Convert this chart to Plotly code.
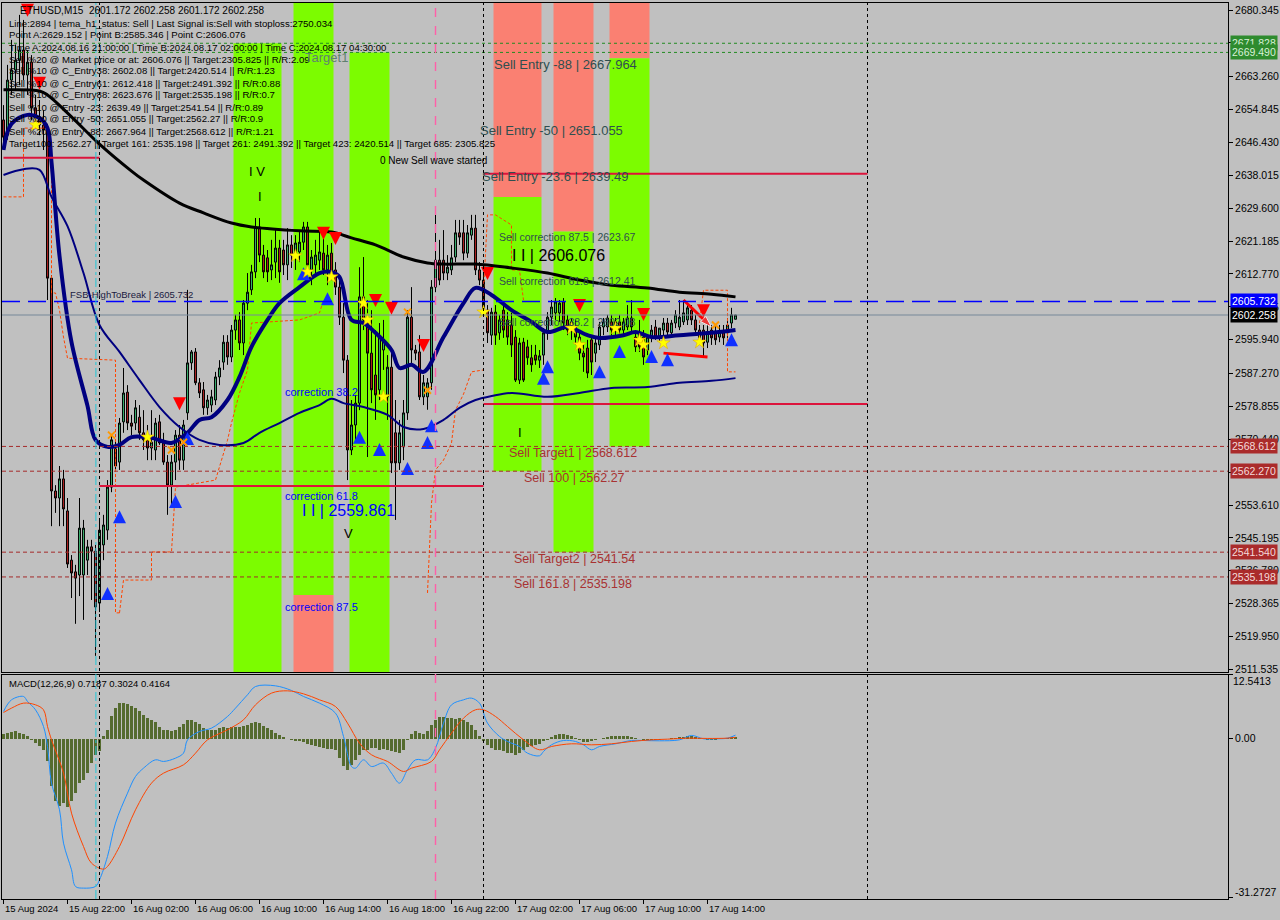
import plotly.graph_objects as go

# ---------------- DATA ----------------
bar_index = list(range(184))
open_ = [2652.2,2648.3,2662.4,2665.0,2667.5,2670.1,2663.7,2667.0,2655.3,2652.7,
 2650.9,2649.6,2611.7,2557.2,2555.4,2560.3,2552.1,2539.5,2536.5,2535.7,
 2535.7,2539.5,2542.9,2541.8,2528.5,2543.4,2547.2,2558.2,2568.0,2564.6,
 2574.9,2582.5,2574.6,2574.6,2576.1,2572.1,2570.3,2568.2,2567.7,2574.9,
 2569.5,2564.6,2558.7,2564.6,2571.5,2565.1,2577.2,2590.0,2592.8,2584.9,
 2583.1,2578.5,2579.2,2580.5,2586.4,2590.2,2595.3,2591.5,2598.4,2601.0,
 2595.1,2605.3,2608.7,2613.3,2624.8,2617.6,2616.9,2613.8,2615.8,2619.4,
 2618.9,2615.1,2620.2,2616.9,2618.4,2620.9,2624.8,2613.8,2615.1,2616.3,
 2618.1,2613.8,2618.1,2613.8,2609.4,2601.7,2590.7,2567.7,2574.1,2579.7,
 2606.9,2601.7,2592.5,2586.9,2583.1,2593.3,2581.3,2588.9,2572.1,2564.4,
 2568.5,2577.2,2601.7,2593.3,2592.8,2581.3,2581.3,2584.9,2609.4,2616.3,
 2616.3,2613.0,2613.8,2617.1,2623.3,2623.3,2618.1,2622.7,2624.5,2613.8,
 2611.2,2603.5,2597.1,2603.0,2597.7,2603.5,2601.0,2599.7,2596.6,2585.6,
 2595.3,2594.1,2591.3,2592.0,2590.7,2592.0,2597.7,2601.7,2602.8,2602.8,
 2605.6,2601.0,2598.4,2599.2,2596.6,2592.5,2593.8,2595.9,2592.5,2594.6,
 2599.2,2599.2,2600.5,2598.4,2600.5,2598.4,2599.2,2601.5,2596.6,2597.7,
 2596.6,2593.3,2596.6,2599.2,2596.6,2598.4,2600.2,2597.7,2600.2,2599.2,
 2600.5,2601.0,2603.5,2601.0,2598.4,2598.4,2595.3,2598.4,2597.9,2596.6,
 2597.7,2597.7,2600.2,2601.172]
high = [2656.0,2666.3,2672.7,2671.4,2679.1,2677.8,2670.1,2668.8,2658.6,2657.3,
 2654.7,2651.2,2612.5,2558.7,2563.6,2562.6,2555.4,2540.8,2538.3,2555.4,
 2549.8,2544.7,2544.7,2543.4,2549.8,2551.1,2560.0,2571.8,2570.3,2575.9,
 2588.7,2584.3,2576.7,2580.5,2579.2,2577.9,2574.1,2577.9,2575.9,2576.7,
 2572.1,2566.4,2566.4,2572.8,2574.1,2575.4,2608.7,2593.3,2593.8,2586.1,
 2585.1,2581.8,2583.1,2587.7,2590.7,2597.1,2597.1,2599.7,2602.3,2603.0,
 2606.1,2613.0,2615.1,2627.1,2627.1,2620.2,2618.9,2621.5,2624.0,2621.5,
 2621.5,2624.5,2622.7,2622.7,2623.5,2626.1,2626.1,2618.9,2621.5,2624.0,
 2622.7,2620.2,2620.7,2615.8,2611.2,2605.3,2592.0,2580.5,2581.8,2614.5,
 2617.1,2606.1,2603.5,2598.4,2600.2,2601.0,2592.0,2593.3,2580.5,2575.4,
 2580.5,2603.5,2609.4,2594.6,2597.1,2586.9,2586.1,2611.2,2629.7,2621.5,
 2624.0,2617.6,2620.2,2626.6,2626.6,2626.6,2625.3,2627.9,2627.9,2615.8,
 2612.5,2604.8,2604.1,2604.8,2602.3,2604.8,2603.0,2602.8,2598.4,2596.4,
 2596.4,2595.9,2594.6,2594.6,2593.3,2598.9,2603.0,2606.1,2606.6,2606.1,
 2606.6,2602.3,2601.5,2601.0,2598.4,2594.6,2595.9,2597.1,2596.4,2600.5,
 2601.5,2602.3,2602.3,2601.5,2602.3,2601.5,2604.8,2606.1,2598.4,2601.0,
 2598.4,2597.1,2599.7,2601.0,2598.9,2601.5,2601.5,2601.0,2603.5,2606.1,
 2606.1,2604.8,2604.8,2602.3,2599.7,2599.7,2599.7,2599.7,2599.7,2599.7,
 2599.7,2601.5,2604.1,2602.258]
low = [2644.5,2647.1,2658.6,2659.9,2661.1,2662.4,2658.6,2652.2,2650.9,2648.3,
 2644.5,2606.1,2548.2,2551.6,2548.2,2548.2,2537.5,2529.8,2523.2,2530.3,
 2524.2,2535.7,2529.3,2515.0,2526.2,2539.5,2544.7,2556.9,2562.6,2562.6,
 2572.1,2572.8,2571.5,2572.8,2570.3,2567.7,2565.1,2565.1,2565.1,2569.0,
 2563.9,2551.1,2553.6,2560.0,2562.6,2562.6,2575.4,2588.2,2584.3,2581.0,
 2576.7,2576.7,2577.4,2579.2,2584.3,2588.2,2589.5,2590.2,2595.9,2593.3,
 2592.0,2603.5,2607.4,2611.7,2615.8,2611.7,2610.7,2611.2,2611.7,2610.5,
 2612.5,2611.2,2614.3,2613.8,2615.8,2618.9,2613.8,2609.9,2612.5,2613.8,
 2612.5,2609.9,2611.2,2607.4,2599.7,2587.4,2560.0,2566.4,2570.3,2577.9,
 2598.4,2565.9,2579.7,2575.4,2580.5,2588.2,2575.4,2561.8,2549.8,2562.6,
 2565.1,2575.4,2589.5,2590.7,2580.5,2579.2,2578.0,2583.1,2608.1,2609.9,
 2611.2,2611.2,2612.5,2615.8,2620.2,2616.3,2616.9,2621.5,2612.5,2609.9,
 2602.3,2595.1,2594.6,2594.6,2595.9,2596.4,2594.6,2591.5,2585.1,2584.6,
 2585.1,2589.5,2587.7,2589.5,2588.7,2589.5,2595.9,2599.7,2601.0,2600.5,
 2598.4,2597.1,2595.9,2594.6,2590.7,2587.7,2586.1,2586.9,2590.2,2593.3,
 2597.1,2597.9,2597.1,2597.1,2597.1,2597.1,2598.4,2597.9,2592.8,2592.8,
 2589.5,2592.0,2595.3,2595.9,2595.3,2597.1,2597.1,2596.4,2598.9,2598.4,
 2599.7,2599.7,2599.7,2597.1,2594.6,2591.5,2593.8,2594.6,2594.6,2595.3,
 2594.6,2596.4,2598.9,2601.172]
close = [2647.8,2662.4,2665.0,2667.5,2670.1,2663.7,2667.0,2655.3,2652.7,2650.9,
 2649.6,2611.7,2557.2,2555.4,2560.3,2552.6,2538.5,2536.2,2534.9,2547.7,
 2547.7,2542.9,2541.8,2527.5,2547.2,2548.5,2558.2,2570.3,2563.6,2574.6,
 2582.3,2574.6,2573.8,2578.5,2572.1,2570.3,2568.2,2569.7,2574.6,2569.5,
 2564.6,2558.7,2564.6,2571.5,2565.1,2574.1,2590.0,2592.8,2584.9,2582.3,
 2578.5,2580.5,2581.3,2586.4,2588.7,2595.3,2591.5,2598.4,2601.0,2595.1,
 2605.3,2608.1,2613.3,2624.8,2617.6,2613.3,2613.3,2615.1,2619.4,2613.3,
 2615.1,2620.2,2617.6,2620.7,2620.9,2624.8,2615.1,2617.1,2617.6,2618.4,
 2613.8,2617.6,2613.0,2609.4,2601.7,2590.7,2567.7,2574.1,2579.7,2606.9,
 2601.0,2592.5,2583.1,2581.8,2596.6,2595.9,2588.9,2564.4,2564.4,2572.1,
 2577.2,2601.7,2593.3,2592.5,2581.3,2584.9,2584.9,2609.4,2616.3,2611.2,
 2613.0,2614.5,2616.9,2623.3,2622.2,2618.1,2623.3,2624.5,2613.8,2611.2,
 2603.5,2597.7,2603.0,2597.1,2601.0,2598.4,2596.6,2594.6,2585.6,2595.1,
 2585.6,2591.3,2589.5,2590.7,2591.8,2597.7,2601.7,2604.3,2605.6,2605.3,
 2600.2,2598.4,2600.5,2596.6,2592.5,2591.5,2587.4,2590.2,2595.1,2599.2,
 2600.5,2601.5,2598.4,2600.5,2598.4,2600.5,2601.5,2599.2,2594.1,2594.1,
 2591.5,2596.6,2598.4,2596.6,2598.9,2600.2,2597.9,2600.2,2602.3,2601.7,
 2602.8,2604.1,2601.0,2598.4,2596.4,2595.1,2597.9,2596.4,2595.9,2597.9,
 2596.4,2599.7,2602.3,2602.258]

ma_slow_idx = [0,9,11,17,24,32,35,44,50,57,62,74,82,87,93,100,106,110,118,127,136,144,152,161,169,177,183]
ma_slow = [2659.9,2659.6,2658.6,2653.0,2646.0,2639.1,2636.8,2630.9,2628.4,2625.8,2624.8,2623.8,2623.5,2622.0,
           2620.2,2617.1,2615.6,2615.3,2615.3,2614.3,2613.0,2611.2,2609.9,2609.2,2608.1,2607.6,2606.9]
ma_fast_idx = [0,2,6,9,11,12,14,17,21,23,26,29,32,37,42,46,49,52,56,59,62,66,69,74,79,82,84,87,90,93,97,99,
               102,105,110,115,118,122,127,132,136,141,146,149,155,158,162,169,177,183]
ma_fast = [2644.5,2651.2,2653.5,2652.7,2650.1,2641.4,2617.4,2595.3,2579.0,2570.3,2568.5,2569.0,2571.0,2570.8,
           2569.5,2572.1,2575.4,2576.1,2580.5,2586.4,2594.1,2601.0,2605.3,2609.4,2613.0,2613.3,2612.0,2601.0,
           2600.2,2597.7,2593.3,2588.7,2589.5,2587.7,2596.6,2605.3,2609.2,2607.4,2603.5,2600.5,2597.9,2599.2,
           2597.1,2596.4,2597.1,2597.9,2596.6,2597.1,2597.7,2598.4]
ma_mid_idx = [0,5,9,12,16,20,24,29,34,39,44,49,54,60,64,69,74,79,82,85,90,96,100,105,110,114,118,122,127,
              136,144,152,161,169,177,183]
ma_mid = [2638.1,2639.6,2639.4,2632.5,2625.0,2613.0,2599.7,2592.8,2585.6,2578.7,2573.6,2570.3,2569.0,2569.5,
          2572.1,2574.6,2577.2,2579.2,2580.8,2579.7,2578.7,2576.7,2573.6,2573.1,2575.4,2578.5,2580.5,2581.5,
          2582.3,2581.3,2582.3,2583.6,2583.8,2584.9,2585.4,2586.1]

# stepped envelope (orange dashed) segments: (bar index, price)
env_a_idx = [0,5,5,11,12,12,13,14,15,16,28,28,29]
env_a = [2632.5,2632.5,2650.1,2650.1,2638.6,2607.9,2607.9,2603.5,2596.6,2591.2,2590.7,2526.0,2526.0]
env_b_idx = [29,30,37,37,42,43,53,56,57,59,61,62,74,79,80]
env_b = [2526.0,2534.4,2534.4,2541.6,2541.6,2558.2,2560.0,2570.2,2574.6,2582.3,2588.2,2600.2,2601.0,2602.8,2606.1]
env_c_idx = [106,107,108,110,112,113,115,117,120]
env_c = [2531.1,2554.1,2562.6,2565.1,2569.5,2577.9,2582.0,2587.7,2588.2]
env_d_idx = [120,121,123,127,127,129,130]
env_d = [2608.1,2627.9,2627.9,2625.3,2613.8,2613.8,2606.1]
env_e_idx = [174,175,181,181,183]
env_e = [2600.2,2608.6,2608.6,2587.7,2587.7]

# signals
buy_idx = [26,29,43,46,75,81,89,94,101,106,107,135,136,149,154,162,166,182]
buy_px = [2532.6,2552.3,2556.2,2572.3,2614.5,2608.1,2572.6,2569.5,2564.6,2571.3,2575.6,2587.7,2590.7,
          2589.4,2594.6,2593.3,2592.5,2597.6]
sell_idx = [6,9,44,80,83,93,97,105,121,144,160,175]
sell_px = [2678.6,2659.9,2577.9,2621.5,2620.2,2604.3,2602.3,2592.8,2611.2,2603.0,2600.7,2601.7]
star_idx = [8,36,73,76,82,90,91,95,120,142,144,153,159,160,165,174]
star_px = [2650.9,2571.0,2617.4,2613.3,2612.0,2605.3,2601.0,2581.3,2603.0,2598.9,2594.6,2598.9,2595.8,
           2594.6,2595.1,2595.3]
cross_idx = [27,42,45,101,106,178]
cross_px = [2571.5,2567.7,2569.7,2603.0,2583.0,2599.7]
trend1_idx = [170,177]
trend1_px = [2606.1,2599.2]
trend2_idx = [165,176]
trend2_px = [2592.5,2591.5]

# MACD(12,26,9)
macd_hist = [0.98,1.24,1.38,1.44,1.24,0.98,0.46,-0.33,-0.85,-1.38,
 -2.16,-4.45,-9.37,-12.31,-13.17,-12.64,-13.43,-12.31,-10.68,-8.71,
 -8.06,-6.75,-4.78,-3.14,-2.49,0.46,1.77,4.39,6.03,7.01,
 7.01,6.88,6.48,6.03,5.37,4.72,4.06,3.73,3.21,2.42,
 1.77,1.77,1.57,1.77,2.29,2.95,3.73,3.60,3.21,2.88,
 2.10,1.77,1.77,1.77,2.10,2.42,2.10,2.29,2.29,2.42,
 2.55,2.75,3.08,3.34,3.08,2.55,2.10,1.77,1.24,0.72,
 0.33,0.05,-0.26,-0.39,-0.52,-0.66,-0.98,-1.18,-1.51,-1.64,
 -1.83,-1.97,-2.03,-2.29,-3.80,-5.44,-6.09,-5.11,-4.13,-3.14,
 -2.16,-2.29,-1.90,-1.83,-2.16,-2.03,-2.16,-2.42,-2.55,-2.69,
 -2.29,-0.20,0.98,1.44,1.24,0.92,1.44,2.75,3.73,4.26,
 4.19,4.00,4.00,3.86,4.00,3.60,3.21,2.75,1.77,0.46,
 -0.52,-1.18,-1.90,-2.16,-2.29,-2.49,-2.69,-2.82,-3.14,-2.82,
 -2.16,-1.70,-1.51,-1.31,-0.98,-0.52,-0.20,0.26,0.66,0.92,
 0.85,0.72,0.46,0.13,-0.33,-0.59,-0.72,-0.52,-0.33,-0.13,
 0.07,0.26,0.46,0.52,0.59,0.59,0.52,0.39,0.13,-0.13,
 -0.26,-0.33,-0.33,-0.26,-0.20,-0.07,0.02,0.07,0.20,0.26,
 0.39,0.52,0.59,0.33,0.13,-0.07,-0.20,-0.20,-0.20,-0.13,
 -0.07,0.20,0.30,0.4164]
macd_idx = [0,2,5,6,8,10,11,12,14,15,17,18,20,23,24,26,28,31,33,35,38,40,43,45,46,49,52,56,58,61,63,68,72,
            75,79,83,85,87,88,90,92,95,97,99,101,103,106,108,110,112,115,117,119,121,124,126,129,131,134,135,
            137,140,143,145,147,149,153,157,160,164,169,172,175,178,181,183]
macd_line = [5.37,7.66,8.32,7.34,5.70,2.42,-1.51,-8.71,-13.95,-20.50,-25.74,-29.02,-29.34,-29.02,-27.71,
             -23.12,-16.57,-10.68,-7.40,-5.77,-4.13,-4.45,-3.80,-2.82,-0.20,1.44,2.10,4.39,6.03,8.65,10.28,
             10.41,9.50,8.32,7.01,5.04,0.46,-5.44,-5.77,-4.13,-5.44,-4.78,-6.75,-8.71,-6.09,-4.13,-4.13,
             -1.83,3.08,6.68,7.66,7.99,7.01,3.08,0.46,-0.52,-1.51,-2.82,-3.34,-2.49,-1.18,-0.33,-0.52,-1.18,
             -2.16,-1.51,-0.98,-0.33,-0.33,-0.39,-0.20,0.66,0.0,0.0,0.13,0.7187]
signal_idx = [0,2,5,8,10,11,12,15,17,20,22,25,26,29,33,37,40,45,48,51,56,60,63,67,71,75,79,83,86,89,92,96,
              100,102,107,109,112,115,118,120,123,126,130,134,137,142,147,152,157,162,166,171,176,181,183]
signal_line = [5.17,6.03,7.01,6.68,5.70,2.42,-0.20,-6.75,-14.61,-21.16,-24.43,-25.61,-25.09,-21.16,-13.95,
               -8.71,-6.75,-5.11,-2.82,-0.20,1.77,3.73,6.68,8.98,9.43,8.84,7.66,6.35,3.08,-0.85,-3.14,-4.45,
               -6.42,-5.77,-4.45,-2.16,1.11,4.06,5.70,5.70,4.39,2.42,-0.20,-2.16,-1.51,-0.98,-1.18,-0.98,
               -0.52,-0.20,-0.07,0.13,0.07,0.13,0.3024]

# axis ticks / labels
time_tick_idx = [0,16,32,48,64,80,96,112,128,144,160,176]
time_tick_labels = ["15 Aug 2024","15 Aug 22:00","16 Aug 02:00","16 Aug 06:00","16 Aug 10:00","16 Aug 14:00",
                    "16 Aug 18:00","16 Aug 22:00","17 Aug 02:00","17 Aug 06:00","17 Aug 10:00","17 Aug 14:00"]
price_ticks = [2680.345,2671.930,2663.260,2654.845,2646.430,2638.015,2629.600,2621.185,2612.770,2604.355,
               2595.940,2587.270,2578.855,2570.440,2562.025,2553.610,2545.195,2536.780,2528.365,2519.950,2511.535]
hidden_ticks = [2671.930, 2562.025]   # fully covered by price tags in the reference

# levels
level_fsb = 2605.732
level_bid = 2602.258
level_green = [2671.828, 2669.490]
level_targets = [2568.612, 2562.270, 2541.540, 2535.198]

# ---------------- FIGURE ----------------
BG = "#C0C0C0"
FONT = "Liberation Sans"
fig = go.Figure()

fig.add_trace(go.Candlestick(
    x=bar_index, open=open_, high=high, low=low, close=close,
    increasing=dict(fillcolor="#3CB371", line=dict(color="black", width=1)),
    decreasing=dict(fillcolor="#B22222", line=dict(color="black", width=1)),
    whiskerwidth=0, xaxis="x", yaxis="y", showlegend=False, hoverinfo="skip"))

for xs, ys in [(env_a_idx, env_a), (env_b_idx, env_b), (env_c_idx, env_c), (env_d_idx, env_d), (env_e_idx, env_e)]:
    fig.add_trace(go.Scatter(x=xs, y=ys, mode="lines", line=dict(color="#FF4500", width=1, dash="3px,2px"),
                             xaxis="x", yaxis="y", showlegend=False, hoverinfo="skip"))

fig.add_trace(go.Scatter(x=ma_slow_idx, y=ma_slow, mode="lines", line=dict(color="black", width=3, shape="spline"),
                         xaxis="x", yaxis="y", showlegend=False))
fig.add_trace(go.Scatter(x=ma_mid_idx, y=ma_mid, mode="lines", line=dict(color="#000080", width=2, shape="spline"),
                         xaxis="x", yaxis="y", showlegend=False))
fig.add_trace(go.Scatter(x=ma_fast_idx, y=ma_fast, mode="lines", line=dict(color="#000080", width=4, shape="spline"),
                         xaxis="x", yaxis="y", showlegend=False))

fig.add_trace(go.Scatter(x=trend1_idx, y=trend1_px, mode="lines+markers", line=dict(color="red", width=3),
                         marker=dict(symbol=["circle", "arrow"], size=[0, 12], angleref="previous", color="red"),
                         xaxis="x", yaxis="y", showlegend=False))
fig.add_trace(go.Scatter(x=trend2_idx, y=trend2_px, mode="lines", line=dict(color="red", width=3),
                         xaxis="x", yaxis="y", showlegend=False))

fig.add_trace(go.Scatter(x=buy_idx, y=buy_px, mode="markers",
                         marker=dict(symbol="arrow-up", size=13, color="#1030FF"),
                         xaxis="x", yaxis="y", showlegend=False))
fig.add_trace(go.Scatter(x=sell_idx, y=sell_px, mode="markers",
                         marker=dict(symbol="arrow-down", size=13, color="#FF0000"),
                         xaxis="x", yaxis="y", showlegend=False))
fig.add_trace(go.Scatter(x=star_idx, y=star_px, mode="markers",
                         marker=dict(symbol="star", size=10, color="#FFFF00", line=dict(color="#E0A000", width=0.5)),
                         xaxis="x", yaxis="y", showlegend=False))
fig.add_trace(go.Scatter(x=cross_idx, y=cross_px, mode="markers",
                         marker=dict(symbol="x-thin", size=7, line=dict(color="#FF9900", width=2)),
                         xaxis="x", yaxis="y", showlegend=False))

# MACD panel
fig.add_trace(go.Bar(x=bar_index, y=macd_hist, marker=dict(color="#556B2F", line=dict(width=0)), width=0.8,
                     xaxis="x2", yaxis="y2", showlegend=False))
fig.add_trace(go.Scatter(x=macd_idx, y=macd_line, mode="lines", line=dict(color="#1E90FF", width=1, shape="spline"),
                         xaxis="x2", yaxis="y2", showlegend=False))
fig.add_trace(go.Scatter(x=signal_idx, y=signal_line, mode="lines", line=dict(color="#FF4500", width=1, shape="spline"),
                         xaxis="x2", yaxis="y2", showlegend=False))

# ---------------- SHAPES ----------------
shapes = []
GREEN = "#7CFC00"
SALMON = "#FA8072"
TOP, BOT = 2690.0, 2505.0
bands = [  # (x0, x1, y0, y1, color)
    (57.5, 69.5, BOT, level_green[0], GREEN),
    (72.5, 82.5, 2530.6, TOP, GREEN),
    (72.5, 82.5, BOT, 2530.6, SALMON),
    (86.5, 96.5, BOT, level_green[1], GREEN),
    (122.5, 134.5, 2632.5, TOP, SALMON),
    (122.5, 134.5, 2562.27, 2632.5, GREEN),
    (137.5, 147.5, 2623.67, TOP, SALMON),
    (137.5, 147.5, 2541.54, 2623.67, GREEN),
    (151.5, 161.5, 2667.964, TOP, SALMON),
    (151.5, 161.5, 2568.612, 2667.964, GREEN),
]
for x0, x1, y0, y1, c in bands:
    shapes.append(dict(type="rect", xref="x", yref="y", x0=x0, x1=x1, y0=y0, y1=y1,
                       fillcolor=c, line=dict(width=0), layer="below"))

for lv in level_green:
    shapes.append(dict(type="line", xref="paper", yref="y", x0=0, x1=1, y0=lv, y1=lv,
                       line=dict(color="#228B22", width=1, dash="dot")))
for lv in level_targets:
    shapes.append(dict(type="line", xref="paper", yref="y", x0=0, x1=1, y0=lv, y1=lv,
                       line=dict(color="#A52A2A", width=1, dash="4px,3px")))
shapes.append(dict(type="line", xref="paper", yref="y", x0=0, x1=1, y0=level_fsb, y1=level_fsb,
                   line=dict(color="#0000FF", width=1.4, dash="18px,8px")))
shapes.append(dict(type="line", xref="paper", yref="y", x0=0, x1=1, y0=level_bid, y1=level_bid,
                   line=dict(color="#778899", width=1)))
# zone lines (crimson)
for x0, x1, lv in [(0, 24, 2642.5), (24, 120, 2558.5), (120, 216, 2638.4), (120, 216, 2579.5)]:
    shapes.append(dict(type="line", xref="x", yref="y", x0=x0, x1=x1, y0=lv, y1=lv,
                       line=dict(color="#DC143C", width=2)))
# vertical separators
for xv, col, dash, wd in [(23.1, "#20C8D8", "dashdot", 1), (24, "black", "dot", 1), (108, "#FF5FA8", "dash", 1.4),
                          (120, "black", "dot", 1), (216, "black", "dot", 1)]:
    shapes.append(dict(type="line", xref="x", yref="paper", x0=xv, x1=xv, y0=0, y1=1,
                       line=dict(color=col, width=wd, dash=dash)))

# ---------------- ANNOTATIONS ----------------
ann = []
def txt(x, y, s, color, size, xref="x", yref="y", anchor="left"):
    ann.append(dict(x=x, y=y, xref=xref, yref=yref, text=s, showarrow=False, xanchor=anchor, yanchor="middle",
                    font=dict(family=FONT, size=size, color=color)))

info_lines = [
    "Line:2894 | tema_h1_status: Sell | Last Signal is:Sell with stoploss:2750.034",
    "Point A:2629.152 | Point B:2585.346 | Point C:2606.076",
    "Time A:2024.08.16 21:00:00 | Time B:2024.08.17 02:00:00 | Time C:2024.08.17 04:30:00",
    "Sell %20 @ Market price or at: 2606.076 || Target:2305.825 || R/R:2.09",
    "Sell %10 @ C_Entry38: 2602.08 || Target:2420.514 || R/R:1.23",
    "Sell %10 @ C_Entry61: 2612.418 || Target:2491.392 || R/R:0.88",
    "Sell %10 @ C_Entry88: 2623.676 || Target:2535.198 || R/R:0.7",
    "Sell %10 @ Entry -23: 2639.49 || Target:2541.54 || R/R:0.89",
    "Sell %20 @ Entry -50: 2651.055 || Target:2562.27 || R/R:0.9",
    "Sell %20 @ Entry -88: 2667.964 || Target:2568.612 || R/R:1.21",
    "Target100: 2562.27 || Target 161: 2535.198 || Target 261: 2491.392 || Target 423: 2420.514 || Target 685: 2305.825",
]
def py(ypx):
    return (899 - ypx) / 896.0
def pxx(xpx):
    return (xpx - 2) / 1226.0

txt(pxx(18), py(10), "ETHUSD,M15  2601.172 2602.258 2601.172 2602.258", "black", 10, "paper", "paper")
for k, s in enumerate(info_lines):
    txt(pxx(7), py(23 + 12 * k), s, "black", 9.6, "paper", "paper")

DSG = "#2F4F4F"
BRN = "#A83232"
txt(122.1, 2666.5, "Sell Entry -88 | 2667.964", DSG, 13)
txt(118.6, 2649.4, "Sell Entry -50 | 2651.055", DSG, 13)
txt(119.1, 2637.8, "Sell Entry -23.6 | 2639.49", DSG, 13)
txt(93.6, 2641.7, "0 New Sell wave started", "black", 10)
txt(123.4, 2622.2, "Sell correction 87.5 | 2623.67", DSG, 10.5)
txt(126.6, 2617.6, "I I | 2606.076", "black", 16)
txt(123.4, 2610.9, "Sell correction 61.8 | 2612.41", DSG, 10.5)
txt(123.4, 2600.5, "Sell correction 38.2 | 2602.08", DSG, 10.5)
txt(69.9, 2582.5, "correction 38.2", "#0000FF", 11)
txt(69.9, 2555.9, "correction 61.8", "#0000FF", 11)
txt(74.1, 2552.1, "I I | 2559.861", "#0000FF", 16)
txt(84.6, 2546.4, "V", "black", 13)
txt(69.9, 2527.5, "correction 87.5", "#0000FF", 11)
txt(60.9, 2638.9, "I V", "black", 13)
txt(63.1, 2632.5, "I", "black", 13)
txt(128.1, 2572.3, "I", "black", 13)
txt(125.9, 2566.9, "Sell Target1 | 2568.612", BRN, 12.5)
txt(129.6, 2560.5, "Sell 100 | 2562.27", BRN, 12.5)
txt(127.1, 2539.8, "Sell Target2 | 2541.54", BRN, 12.5)
txt(127.1, 2533.4, "Sell 161.8 | 2535.198", BRN, 12.5)
txt(74.9, 2668.1, "Target1", "#5F8070", 13)
txt(16.1, 2607.6, "FSB-HighToBreak | 2605.732", "#1A1A40", 9.5)
txt(pxx(7), py(683), "MACD(12,26,9) 0.7187 0.3024 0.4164", "black", 9.5, "paper", "paper")

# price tags on right axis
def tag(lv, s, bg, fg):
    ann.append(dict(x=1, xref="paper", y=lv, yref="y", text=s, showarrow=False, xanchor="left", xshift=2,
                    yanchor="middle", bgcolor=bg, borderpad=1,
                    font=dict(family=FONT, size=10.5, color=fg)))
tag(level_green[0], "2671.828", "#2E8B2E", "#D8F0D8")
tag(level_green[1], "2669.490", "#2E8B2E", "#D8F0D8")
tag(level_fsb, "2605.732", "#0000FF", "white")
tag(level_bid, "2602.258", "black", "white")
for lv, s in zip(level_targets, ["2568.612", "2562.270", "2541.540", "2535.198"]):
    tag(lv, s, "#AA2B2B", "#F4DADA")
# MACD scale labels
txt(1, py(681), "12.5413", "black", 10.5, "paper", "paper")
ann[-1]["xshift"] = 3
txt(1, py(892), "-31.2727", "black", 10.5, "paper", "paper")
ann[-1]["xshift"] = 5

# x-axis date labels (left-aligned at their tick, as in MT4)
for ti, lab in zip(time_tick_idx, time_tick_labels):
    ann.append(dict(x=ti, xref="x2", y=py(909), yref="paper", text=lab, showarrow=False,
                    xanchor="left", yanchor="middle", xshift=-1, font=dict(family=FONT, size=9.5, color="black")))

fig.update_layout(
    width=1280, height=920,
    margin=dict(l=2, r=52, t=3, b=21, autoexpand=False),
    paper_bgcolor=BG, plot_bgcolor=BG,
    font=dict(family=FONT, size=11, color="black"),
    showlegend=False, bargap=0,
    shapes=shapes, annotations=ann,
    xaxis=dict(domain=[0, 1], anchor="y", range=[-0.375, 306.125], showgrid=False, zeroline=False,
               showticklabels=False, ticks="", showline=True, mirror=True, linecolor="black", linewidth=1,
               rangeslider=dict(visible=False)),
    yaxis=dict(domain=[0.2533, 1], anchor="x", range=[2510.85, 2682.14], side="right", showgrid=False,
               zeroline=False, tickvals=price_ticks,
               ticktext=["" if v in hidden_ticks else f"{v:.3f}" for v in price_ticks],
               ticks="outside", ticklen=4, tickcolor="black", showline=True, mirror=True, linecolor="black",
               linewidth=1, tickfont=dict(family=FONT, size=10.5, color="black")),
    xaxis2=dict(domain=[0, 1], anchor="y2", range=[-0.375, 306.125], matches="x", showgrid=False, zeroline=False,
                tickvals=time_tick_idx, ticktext=[""] * len(time_tick_idx), ticks="outside", ticklen=4,
                tickcolor="black", showline=True, mirror=True, linecolor="black", linewidth=1),
    yaxis2=dict(domain=[0, 0.25], anchor="x2", range=[-31.48, 12.54], side="right", showgrid=False,
                zeroline=False, tickvals=[12.5413, 0, -31.2727], ticktext=["", "0.00", ""],
                ticks="outside", ticklen=4, tickcolor="black", showline=True, mirror=True, linecolor="black",
                linewidth=1, tickfont=dict(family=FONT, size=10.5, color="black")),
)

fig.write_html("out.html", config={"displayModeBar": False, "staticPlot": True},
               post_script="document.body.style.margin='0px';document.body.style.overflow='hidden';")
